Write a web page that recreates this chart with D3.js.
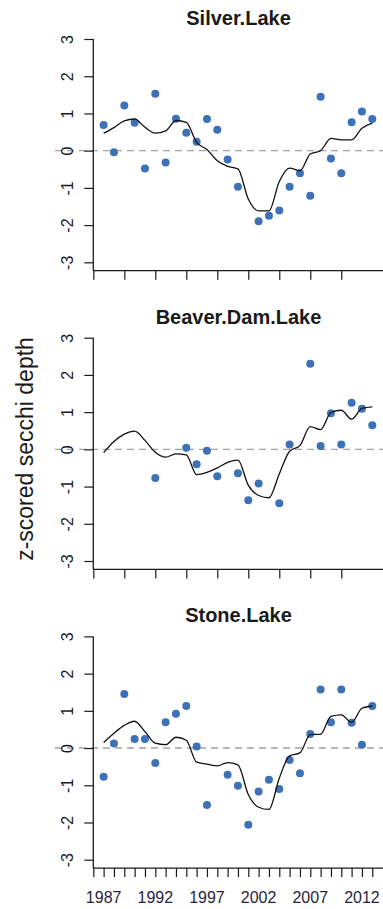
<!DOCTYPE html>
<html>
<head>
<meta charset="utf-8">
<script src="https://cdn.jsdelivr.net/npm/d3@7/dist/d3.min.js"></script>
<style>
  html, body { margin: 0; padding: 0; background: #fff; }
  svg { display: block; font-family: "Liberation Sans", Arial, sans-serif; }
</style>
</head>
<body>
<svg id="chart" width="383" height="909"></svg>
<script>
// Years of record
const years = d3.range(1987, 2014);

// Observed z-scored secchi depth (null = no sample that year)
const silverObs = [0.69, -0.04, 1.21, 0.75, -0.48, 1.53, -0.32, 0.86, 0.48, 0.24, 0.85, 0.56, -0.24, -0.97,
  null, -1.90, -1.75, -1.61, -0.97, -0.61, -1.21, 1.45, -0.21, -0.61, 0.76, 1.05, 0.85];
const beaverObs = [null, null, null, null, null, -0.77, null, null, 0.04, -0.40, -0.04, -0.72, null, -0.64,
  -1.37, -0.92, null, -1.45, 0.13, null, 2.30, 0.09, 0.97, 0.13, 1.25, 1.09, 0.65];
const stoneObs = [-0.77, 0.12, 1.45, 0.24, 0.24, -0.40, 0.69, 0.92, 1.13, 0.04, -1.53, null, -0.72, -1.01,
  -2.06, -1.17, -0.85, -1.10, -0.32, -0.68, 0.38, 1.57, 0.69, 1.57, 0.68, 0.09, 1.13];

// Smoothed trend for each lake
const silverTrend = [0.47, 0.62, 0.80, 0.85, 0.63, 0.47, 0.53, 0.81, 0.76, 0.22, 0.03, -0.27, -0.42, -0.49,
  -1.30, -1.62, -1.62, -0.83, -0.47, -0.54, -0.09, 0.00, 0.33, 0.29, 0.29, 0.60, 0.74];
const beaverTrend = [-0.09, 0.21, 0.41, 0.49, 0.24, -0.08, -0.21, -0.12, -0.15, -0.68, -0.62, -0.50, -0.35, -0.29,
  -0.96, -1.24, -1.30, -0.66, -0.05, 0.10, 0.61, 0.53, 0.99, 1.05, 0.81, 1.10, 1.14];
const stoneTrend = [0.15, 0.40, 0.61, 0.72, 0.44, 0.13, 0.09, 0.29, 0.21, -0.38, -0.43, -0.48, -0.39, -0.45,
  -1.25, -1.59, -1.65, -0.81, -0.21, -0.13, 0.36, 0.37, 0.85, 0.89, 0.69, 1.07, 1.13];

const lakeNames = ["Silver.Lake", "Beaver.Dam.Lake", "Stone.Lake"];
const yTicks = [-3, -2, -1, 0, 1, 2, 3];
const yearLabels = [1987, 1992, 1997, 2002, 2007, 2012];
const yTitle = "z-scored secchi depth";

const panels = [
  { name: lakeNames[0], obs: silverObs, trend: silverTrend, xTicks: d3.range(1986, 2011, 3), labels: false },
  { name: lakeNames[1], obs: beaverObs, trend: beaverTrend, xTicks: d3.range(1986, 2011, 3), labels: false },
  { name: lakeNames[2], obs: stoneObs, trend: stoneTrend, xTicks: d3.range(1986, 2014, 1), labels: true }
];

const svg = d3.select("#chart");
const W = 383;
const left = 93.3;
const panelStep = 298.7;
const x = d3.scaleLinear().domain([1986, 2014]).range([left, 382.6]);
const ink = "#1a1a1a";
const pointColor = "#3e72b8";

panels.forEach((p, i) => {
  const top = 39 + i * panelStep;
  const y = d3.scaleLinear().domain([-3, 3]).range([top + 223.3, top]);
  const axisY = top + 231.7;
  const g = svg.append("g");

  // panel title
  g.append("text")
    .attr("x", (left + 383.7) / 2)
    .attr("y", top - 14)
    .attr("text-anchor", "middle")
    .attr("font-size", 20)
    .attr("font-weight", "bold")
    .attr("fill", ink)
    .text(p.name);

  // zero reference line
  g.append("line")
    .attr("x1", 55).attr("x2", W)
    .attr("y1", y(0)).attr("y2", y(0))
    .attr("stroke", "#a3a3a3")
    .attr("stroke-width", 1.4)
    .attr("stroke-dasharray", "7,5");

  // y axis
  const ya = g.append("g")
    .attr("transform", `translate(${left},0)`)
    .call(d3.axisLeft(y).tickValues(yTicks).tickSize(9).tickFormat(d3.format("d")));
  ya.select(".domain").remove();
  ya.selectAll(".tick line").attr("stroke", ink).attr("stroke-width", 1.2);
  ya.selectAll(".tick text")
    .attr("font-size", 16)
    .attr("fill", ink)
    .attr("x", null).attr("dy", null)
    .attr("text-anchor", "middle")
    .attr("transform", "translate(-20,0) rotate(-90)")
    .text(d => d < 0 ? "-" + Math.abs(d) : String(d));

  g.append("line")
    .attr("x1", left).attr("x2", left)
    .attr("y1", y(3)).attr("y2", axisY)
    .attr("stroke", ink).attr("stroke-width", 1.3);

  // x axis
  const xa = g.append("g")
    .attr("transform", `translate(0,${axisY})`)
    .call(d3.axisBottom(x).tickValues(p.xTicks).tickSize(9).tickFormat(""));
  xa.select(".domain").remove();
  xa.selectAll(".tick line").attr("stroke", ink).attr("stroke-width", 1.2);
  if (p.labels) {
    xa.selectAll(".tick text").remove();
    xa.selectAll(".yr")
      .data(yearLabels)
      .enter().append("text")
      .attr("class", "yr")
      .attr("x", d => x(d))
      .attr("y", 34.8)
      .attr("text-anchor", "middle")
      .attr("font-size", 16)
      .attr("fill", "#2a1f3d")
      .text(d => d);
  }
  g.append("line")
    .attr("x1", left).attr("x2", W)
    .attr("y1", axisY).attr("y2", axisY)
    .attr("stroke", ink).attr("stroke-width", 1.3);

  // observations
  const obs = years.map((yr, k) => ({ yr, v: p.obs[k] })).filter(d => d.v !== null);
  g.selectAll("circle")
    .data(obs)
    .enter().append("circle")
    .attr("cx", d => x(d.yr))
    .attr("cy", d => y(d.v))
    .attr("r", 4)
    .attr("fill", pointColor);

  // smoothed trend
  const line = d3.line()
    .x((d, k) => x(years[k]))
    .y(d => y(d))
    .curve(d3.curveMonotoneX);
  g.append("path")
    .datum(p.trend)
    .attr("d", line)
    .attr("fill", "none")
    .attr("stroke", "#111")
    .attr("stroke-width", 1.3);
});

// shared y axis title
svg.append("text")
  .attr("transform", "translate(33,449) rotate(-90)")
  .attr("text-anchor", "middle")
  .attr("font-size", 23)
  .attr("fill", ink)
  .text(yTitle);
</script>
</body>
</html>
